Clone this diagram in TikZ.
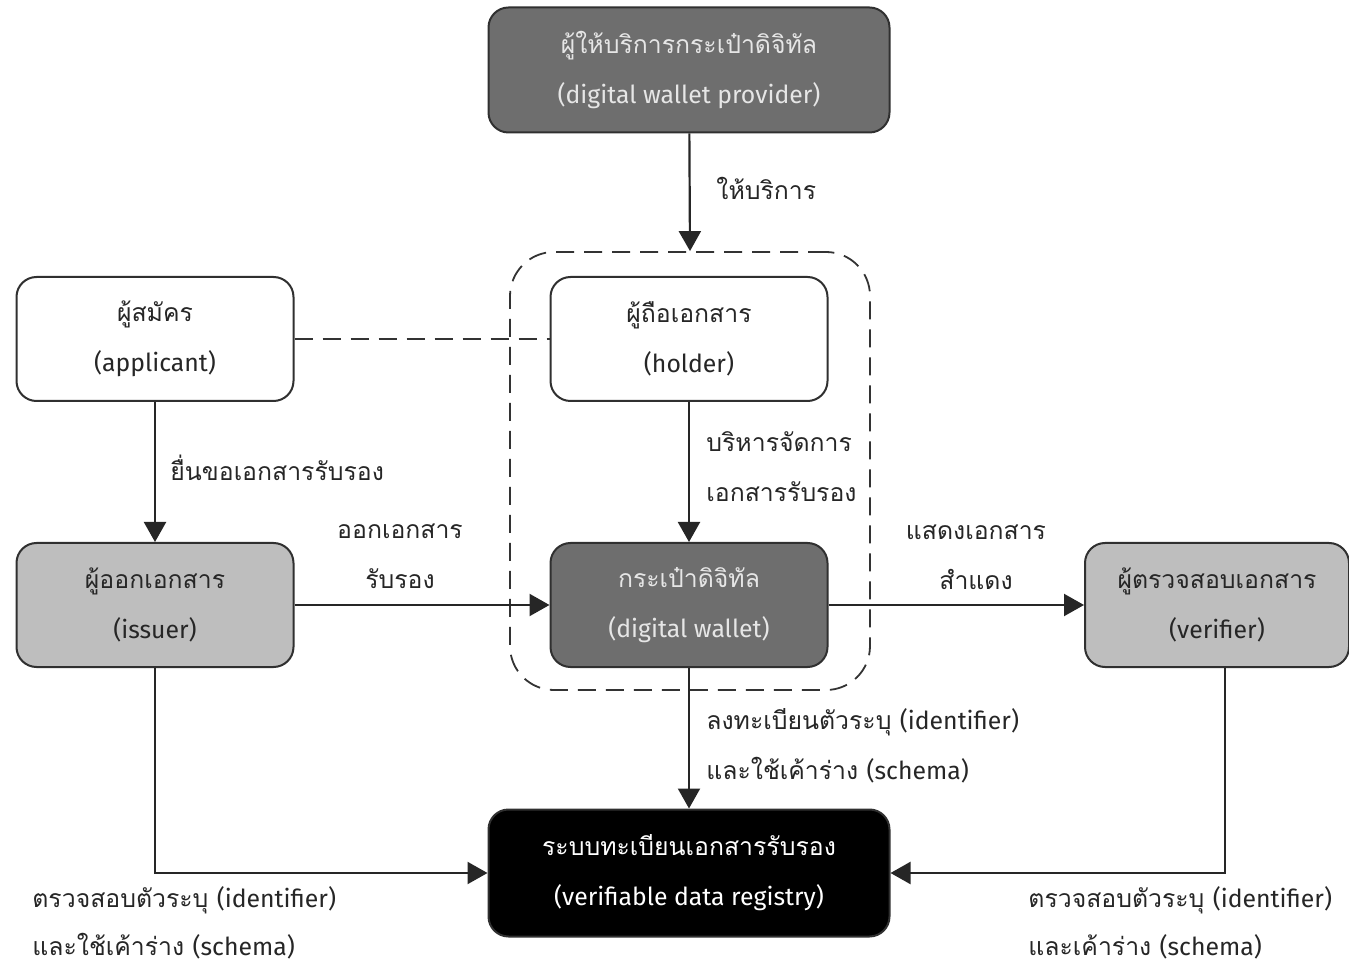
\documentclass[tikz,border=0pt]{standalone}
\usepackage{fontspec}
\setmainfont[Script=Thai]{Loma}
\newfontfamily\en[Scale=1.0]{Fira Sans}
\usetikzlibrary{arrows.meta}

\definecolor{darkfill}{HTML}{6E6E6E}
\definecolor{lightfill}{HTML}{BEBEBE}
\definecolor{softwhite}{HTML}{E6E6E6}
\definecolor{edge}{HTML}{303030}

\tikzset{
  txt/.style={font=\fontsize{12.4}{25}\selectfont},
  box/.style={txt, draw=edge, line width=1pt, rounded corners=10pt,
    align=center, inner sep=0pt},
  wide/.style={box, minimum width=200.5pt, minimum height=62.5pt},
  narrow/.style={box, minimum width=138.5pt, minimum height=62pt},
  darkbox/.style={fill=darkfill, text=softwhite},
  lightbox/.style={fill=lightfill, text=black!85},
  plainbox/.style={fill=white, text=black!85},
  flow/.style={line width=1.1pt, draw=black!85,
    -{Triangle[length=10pt,width=11pt]}},
  lbl/.style={txt, inner sep=0pt, text=black!85},
  groupline/.style={draw=black!80, line width=0.9pt, dash pattern=on 9pt off 5pt}
}

\begin{document}
\begin{tikzpicture}[x=0.5pt, y=-0.5pt]
\useasboundingbox (0,0) rectangle (1349,967);

% holder and its wallet, grouped
\node[groupline, rounded corners=22pt, minimum width=180pt, minimum height=219pt,
      inner sep=0pt] (group) at (690,471) {};

% actors
\node[wide, darkbox] (provider) at (689,70)
  {ผู้ให้บริการกระเป๋าดิจิทัล\\{\en(digital wallet provider)}};
\node[narrow, plainbox] (applicant) at (155,339) {ผู้สมัคร\\{\en(applicant)}};
\node[narrow, plainbox] (holder) at (689,339) {ผู้ถือเอกสาร\\{\en(holder)}};
\node[narrow, lightbox] (issuer) at (155,605) {ผู้ออกเอกสาร\\{\en(issuer)}};
\node[narrow, darkbox] (wallet) at (689,605) {กระเป๋าดิจิทัล\\{\en(digital wallet)}};
\node[box, lightbox, minimum width=132pt, minimum height=62pt] (verifier) at (1217,605)
  {ผู้ตรวจสอบเอกสาร\\{\en(verifier)}};
\node[wide, fill=black, text=white, minimum height=63.5pt] (registry) at (689,873)
  {ระบบทะเบียนเอกสารรับรอง\\{\en(verifiable data registry)}};

% connectors
\draw[flow] (provider) -- (group.north);
\draw[groupline] (applicant) -- (holder);
\draw[flow] (applicant) -- (issuer);
\draw[flow] (holder) -- (wallet);
\draw[flow] (issuer) -- (wallet);
\draw[flow] (wallet) -- (verifier);
\draw[flow] (wallet) -- (registry);
\draw[flow] (issuer.south) |- (registry.west);
\draw[flow] ([xshift=4pt]verifier.south) |- (registry.east);

% connector labels
\node[lbl, anchor=west] (lprov) at (716,188) {ให้บริการ};
\node[lbl, anchor=west] (lapply) at (170,468) {ยื่นขอเอกสารรับรอง};
\node[lbl, align=center] (lissue) at (400,556) {ออกเอกสาร\\รับรอง};
\node[lbl, anchor=west, align=left] (lmanage) at (706,467) {บริหารจัดการ\\เอกสารรับรอง};
\node[lbl, align=center] (lshow) at (976,557) {แสดงเอกสาร\\สำแดง};
\node[lbl, anchor=west, align=left] (lreg) at (706,746)
  {ลงทะเบียนตัวระบุ {\en(identifier)}\\และใช้เค้าร่าง {\en(schema)}};
\node[lbl, anchor=west, align=left, font=\fontsize{12.4}{24}\selectfont] (lcheckl) at (32,923)
  {ตรวจสอบตัวระบุ {\en(identifier)}\\และใช้เค้าร่าง {\en(schema)}};
\node[lbl, anchor=west, align=left, font=\fontsize{12.4}{24}\selectfont] (lcheckr) at (1028,923)
  {ตรวจสอบตัวระบุ {\en(identifier)}\\และเค้าร่าง {\en(schema)}};
\end{tikzpicture}
\end{document}
